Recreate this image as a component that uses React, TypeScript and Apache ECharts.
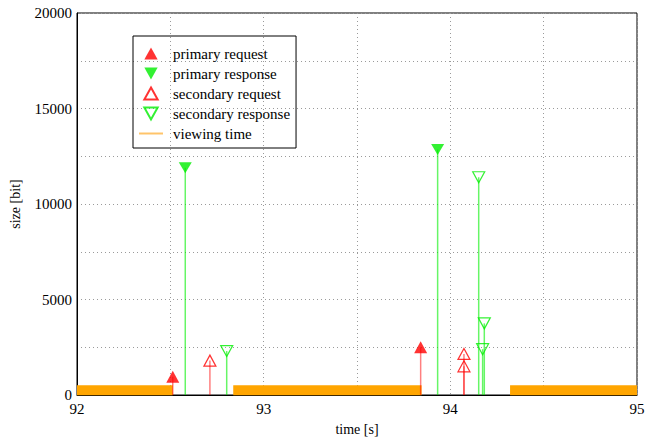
import React, { useEffect, useRef } from "react";
import * as echarts from "echarts";

const primaryReqT = [92.513, 93.841];
const primaryReqSize = [950, 2500];
const primaryRespT = [92.58, 93.932];
const primaryRespSize = [11900, 12850];
const secondaryReqT = [92.712, 94.073, 94.073];
const secondaryReqSize = [1800, 2150, 1500];
const secondaryRespT = [92.802, 94.152, 94.173, 94.182];
const secondaryRespSize = [2300, 11400, 2400, 3750];
const viewingStart = [92, 92.837, 94.32];
const viewingEnd = [92.513, 93.846, 95];
const viewingLevel = 250;

const UP = "path://M5,0L10,9L0,9Z";
const DOWN = "path://M0,0L10,0L5,9Z";
const LINE_ICON = "path://M0,0L24,0L24,2L0,2Z";
const FONT = "Times New Roman";

function pairs(t: number[], s: number[]) {
  return t.map((x, i) => [x, s[i]]);
}

function stems(t: number[], s: number[], stroke: string) {
  return {
    type: "custom",
    silent: true,
    z: 2,
    data: pairs(t, s),
    encode: { x: 0, y: 1 },
    renderItem: (params: any, api: any) => {
      const x = api.value(0);
      const p0 = api.coord([x, 0]);
      const p1 = api.coord([x, api.value(1)]);
      return {
        type: "line",
        shape: { x1: p0[0], y1: p0[1], x2: p1[0], y2: p1[1] },
        style: { stroke, lineWidth: 1.5 },
      };
    },
  };
}

function viewingData() {
  const d: any[] = [];
  viewingStart.forEach((s, i) => {
    if (i > 0) d.push([(viewingEnd[i - 1] + s) / 2, "-"]);
    d.push([s, viewingLevel]);
    d.push([viewingEnd[i], viewingLevel]);
  });
  return d;
}

export default function App() {
  const ref = useRef<HTMLDivElement>(null);
  useEffect(() => {
    const chart = echarts.init(ref.current!, null, { renderer: "svg" });
    const dotted = { color: "#9a9a9a", type: [1, 3] as any, width: 1 };
    chart.setOption({
      animation: false,
      textStyle: { fontFamily: FONT },
      grid: {
        left: 77,
        right: 20,
        top: 13,
        bottom: 37,
        show: true,
        borderColor: "#000",
        borderWidth: 1,
        backgroundColor: "transparent",
      },
      legend: {
        orient: "vertical",
        left: 133,
        top: 36,
        padding: [10, 6, 7, 6],
        itemWidth: 24,
        itemHeight: 12,
        itemGap: 5,
        borderColor: "#000",
        borderWidth: 1,
        textStyle: {
          fontFamily: FONT,
          fontSize: 15,
          color: "#000",
          padding: [0, 0, 0, 5],
        },
        data: [
          { name: "primary request", icon: UP },
          { name: "primary response", icon: DOWN },
          { name: "secondary request", icon: UP },
          { name: "secondary response", icon: DOWN },
          { name: "viewing time", icon: LINE_ICON, itemStyle: { color: "#ffc46a" } },
        ],
      },
      xAxis: {
        type: "value",
        min: 92,
        max: 95,
        interval: 0.5,
        name: "time [s]",
        nameLocation: "middle",
        nameGap: 27,
        nameTextStyle: { fontFamily: FONT, fontSize: 14, color: "#000" },
        axisLine: { show: true, lineStyle: { color: "#000", width: 1 } },
        axisTick: { show: false },
        axisLabel: {
          fontFamily: FONT,
          fontSize: 15,
          color: "#000",
          margin: 6,
          formatter: (v: number) => (Number.isInteger(v) ? String(v) : ""),
        },
        splitLine: { show: true, lineStyle: dotted },
      },
      yAxis: {
        type: "value",
        min: 0,
        max: 20000,
        interval: 2500,
        name: "size [bit]",
        nameLocation: "middle",
        nameGap: 55,
        nameTextStyle: { fontFamily: FONT, fontSize: 14, color: "#000" },
        axisLine: { show: true, lineStyle: { color: "#000", width: 1 } },
        axisTick: { show: false },
        axisLabel: {
          fontFamily: FONT,
          fontSize: 15,
          color: "#000",
          margin: 5,
          formatter: (v: number) => (v % 5000 === 0 ? String(v) : ""),
        },
        splitLine: { show: true, lineStyle: dotted },
      },
      series: [
        {
          name: "viewing time",
          type: "line",
          data: viewingData(),
          symbol: "none",
          connectNulls: false,
          lineStyle: { color: "#ffa500", width: 10, cap: "butt" },
          itemStyle: { color: "#ffa500" },
          z: 1,
        },
        stems(primaryReqT, primaryReqSize, "rgba(255,0,0,0.5)"),
        stems(primaryRespT, primaryRespSize, "rgba(0,240,0,0.6)"),
        stems(secondaryReqT, secondaryReqSize, "rgba(255,0,0,0.5)"),
        stems(secondaryRespT, secondaryRespSize, "rgba(0,240,0,0.6)"),
        {
          name: "primary request",
          type: "scatter",
          data: pairs(primaryReqT, primaryReqSize),
          symbol: UP,
          symbolSize: [13, 12],
          itemStyle: { color: "#ff0000" },
          z: 3,
        },
        {
          name: "primary response",
          type: "scatter",
          data: pairs(primaryRespT, primaryRespSize),
          symbol: DOWN,
          symbolSize: [13, 11],
          itemStyle: { color: "#00ee00" },
          z: 3,
        },
        {
          name: "secondary request",
          type: "scatter",
          data: pairs(secondaryReqT, secondaryReqSize),
          symbol: UP,
          symbolSize: [12, 11],
          itemStyle: { color: "rgba(255,255,255,0)", borderColor: "#ff0000", borderWidth: 1.2 },
          z: 3,
        },
        {
          name: "secondary response",
          type: "scatter",
          data: pairs(secondaryRespT, secondaryRespSize),
          symbol: DOWN,
          symbolSize: [12, 11],
          itemStyle: { color: "rgba(255,255,255,0)", borderColor: "#00ee00", borderWidth: 1.2 },
          z: 3,
        },
      ],
    });
    return () => chart.dispose();
  }, []);
  return (
    <div
      ref={ref}
      style={{ position: "fixed", left: 0, top: 0, width: 657, height: 441, background: "#fff" }}
    />
  );
}
